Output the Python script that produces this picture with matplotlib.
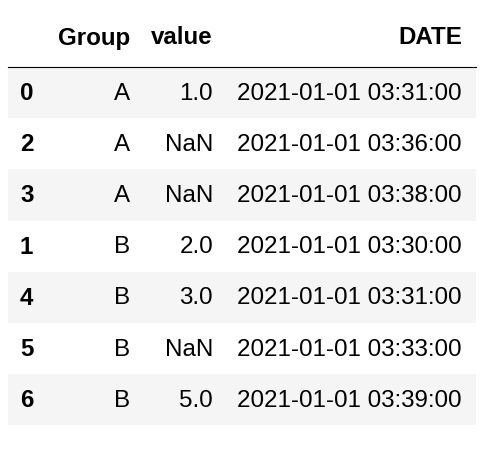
import matplotlib
matplotlib.use("Agg")
import matplotlib.pyplot as plt
from matplotlib.patches import Rectangle

columns = ["Group", "value", "DATE"]
index = ["0", "2", "3", "1", "4", "5", "6"]
group = ["A", "A", "A", "B", "B", "B", "B"]
value = ["1.0", "NaN", "NaN", "2.0", "3.0", "NaN", "5.0"]
date = ["2021-01-01 03:31:00", "2021-01-01 03:36:00", "2021-01-01 03:38:00",
        "2021-01-01 03:30:00", "2021-01-01 03:31:00", "2021-01-01 03:33:00",
        "2021-01-01 03:39:00"]

W, H = 502, 460
fig = plt.figure(figsize=(W/100, H/100), dpi=100)
ax = fig.add_axes([0, 0, 1, 1])
ax.set_xlim(0, W); ax.set_ylim(H, 0); ax.axis("off")

fs = 17.4
fam = "Liberation Sans"
top, hdr_h, row_h = 10, 58, 51.2
hy = top + hdr_h/2 - 1
ax.text(130, hy, columns[0], ha="right", va="center", fontsize=fs, fontweight="bold", family=fam)
ax.text(213, hy, columns[1], ha="right", va="center", fontsize=fs, fontweight="bold", family=fam)
ax.text(462, hy, columns[2], ha="right", va="center", fontsize=fs, fontweight="bold", family=fam)
ax.plot([8, 476], [top+hdr_h, top+hdr_h], color="black", lw=0.8)

for i in range(len(index)):
    y0 = top + hdr_h + i*row_h
    if i % 2 == 0:
        ax.add_patch(Rectangle((8, y0), 468, row_h, color="#f5f5f5", lw=0))
    yc = y0 + row_h/2
    ax.text(20, yc, index[i], ha="left", va="center", fontsize=fs, fontweight="bold", family=fam)
    ax.text(130, yc, group[i], ha="right", va="center", fontsize=fs, family=fam)
    ax.text(213, yc, value[i], ha="right", va="center", fontsize=fs, family=fam)
    ax.text(462, yc, date[i], ha="right", va="center", fontsize=fs, family=fam)

fig.savefig("out.png", dpi=100)
